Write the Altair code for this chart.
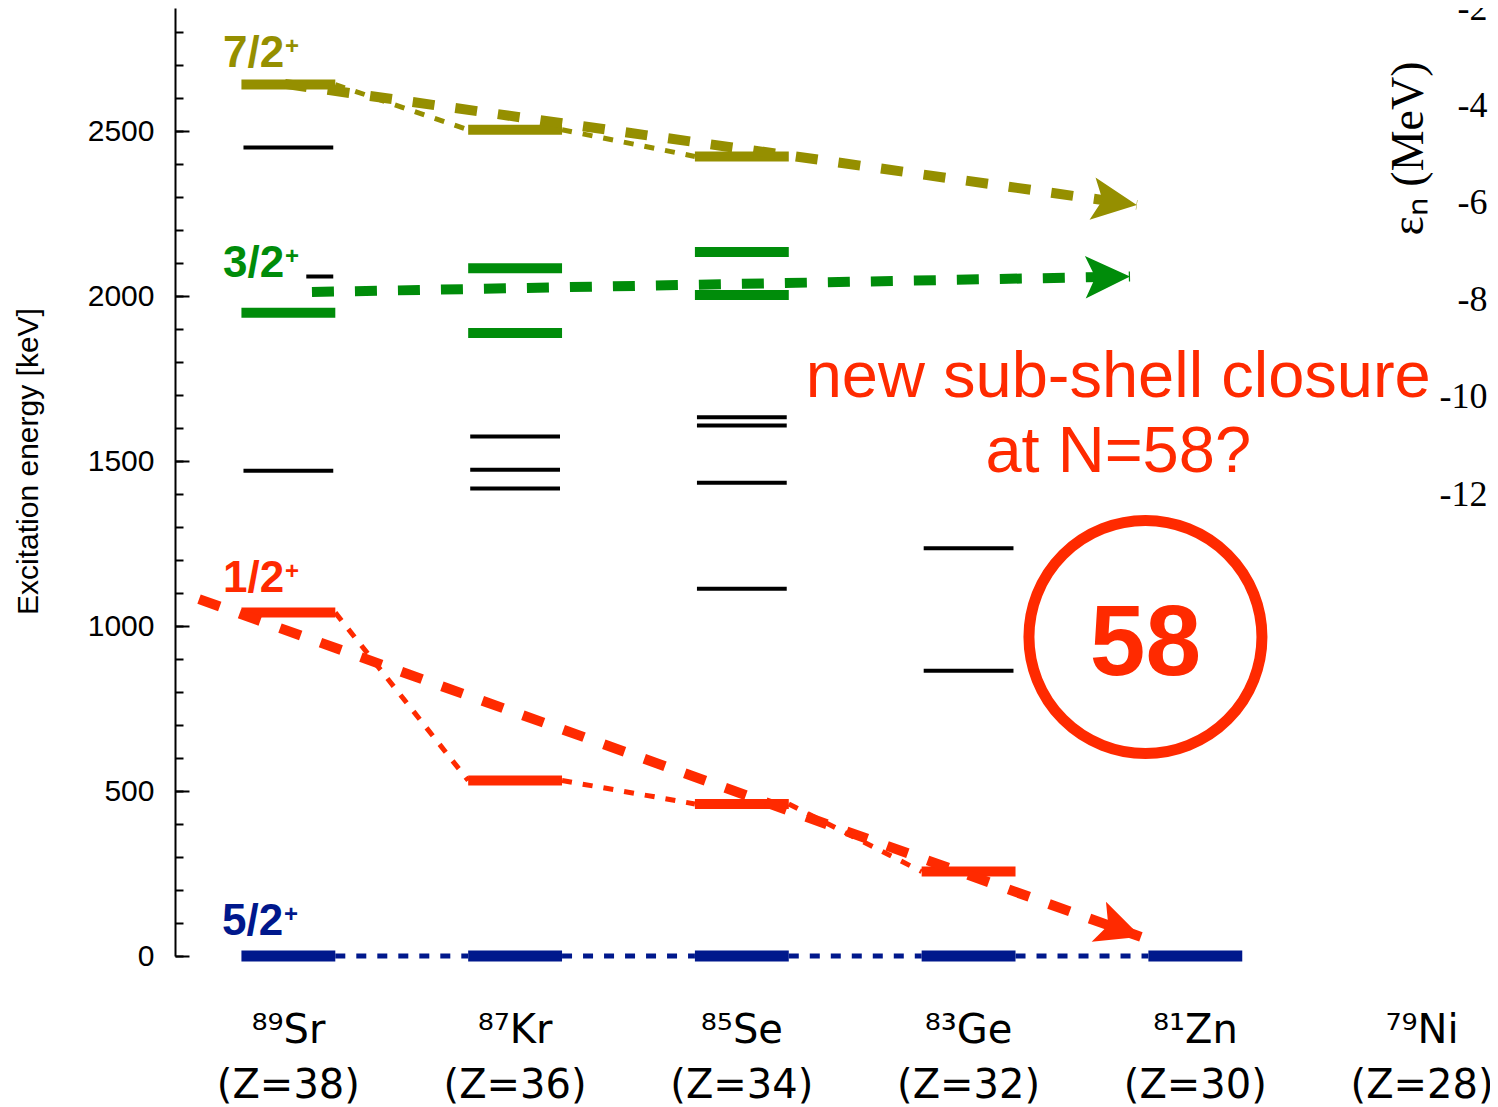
import math
import altair as alt
import pandas as pd

# ---------------- layout (plot area) ----------------
W, H = 1255, 948
X_DOMAIN = [-0.5, 5.035]          # nucleus slots
Y_DOMAIN = [0, 2874]              # keV
EPS_DOMAIN = [-21.5, -2]          # MeV (right axis)
PX_PER_SLOT = W / (X_DOMAIN[1] - X_DOMAIN[0])
PX_PER_KEV = H / (Y_DOMAIN[1] - Y_DOMAIN[0])

# ---------------- data ----------------
nuclei = ["⁸⁹Sr", "⁸⁷Kr", "⁸⁵Se", "⁸³Ge", "⁸¹Zn", "⁷⁹Ni"]
z_labels = ["(Z=38)", "(Z=36)", "(Z=34)", "(Z=32)", "(Z=30)", "(Z=28)"]
# label rows sit below the energy axis (keV positions of the text baselines)
name_row_y = -264
z_row_y = -431

OLIVE, GREEN, RED, BLUE, BLACK = "#958F00", "#008C0A", "#FF2A00", "#00188C", "#000000"

# 7/2+ levels (Sr, Kr, Se)
olive_levels = [2642, 2505, 2424]
# 3/2+ levels: (nucleus index, energy)
green_levels = [(0, 1950), (1, 2085), (1, 1889), (2, 2134), (2, 2004)]
# 1/2+ levels (Sr, Kr, Se, Ge)
red_levels = [1041, 532, 461, 256]
# 5/2+ ground states (Sr, Kr, Se, Ge, Zn)
blue_levels = [0, 0, 0, 0, 0]
# other levels: (nucleus index, energy)
black_levels = [(0, 2451), (0, 1471), (1, 1575), (1, 1474), (1, 1417),
                (2, 1633), (2, 1608), (2, 1435), (2, 1113), (3, 1236), (3, 865)]
short_black_levels = [(0, 2060)]

# thick trend arrows: start (slot, keV) -> tip (slot, keV)
trend_series = ["7/2", "3/2", "1/2"]
trend_colors = [OLIVE, GREEN, RED]
trend_start = [(-0.015, 2644), (0.104, 2013), (-0.394, 1082)]
trend_tip = [(3.742, 2277), (3.712, 2060), (3.760, 58)]

# spin labels
spin_text = ["7/2", "3/2", "1/2", "5/2"]
spin_colors = [OLIVE, GREEN, RED, BLUE]
spin_x = [-0.288, -0.288, -0.288, -0.293]
spin_y = [2696, 2059, 1104, 64]

# annotation
note_text = ["new sub-shell closure", "at N=58?"]
note_x = [3.660, 3.660]
note_y = [1695, 1468]
circle_x, circle_y = 3.780, 967
circle_label = "58"
circle_label_y = 852

eps_ticks = [-2, -4, -6, -8, -10, -12]

# ---------------- tables ----------------
HALF = 0.207      # colored bar half width (slots)
HALF_B = 0.198    # black bar half width

rows = []
for i, e in enumerate(olive_levels):
    rows.append(dict(x=i - HALF, x2=i + HALF, y=e, color=OLIVE, w=10))
for i, e in green_levels:
    rows.append(dict(x=i - HALF, x2=i + HALF, y=e, color=GREEN, w=10))
for i, e in enumerate(red_levels):
    rows.append(dict(x=i - HALF, x2=i + HALF, y=e, color=RED, w=10))
for i, e in enumerate(blue_levels):
    rows.append(dict(x=i - HALF, x2=i + HALF, y=e, color=BLUE, w=11))
for i, e in black_levels:
    rows.append(dict(x=i - HALF_B, x2=i + HALF_B, y=e, color=BLACK, w=4))
for i, e in short_black_levels:
    rows.append(dict(x=i + 0.079, x2=i + HALF_B, y=e, color=BLACK, w=4))
levels_df = pd.DataFrame(rows)

# thin dashed connectors between bar ends
seg_rows = []
seg_id = 0
for series, col in [(olive_levels, OLIVE), (red_levels, RED), (blue_levels, BLUE)]:
    for k in range(len(series) - 1):
        seg_rows.append(dict(seg=seg_id, o=0, x=k + HALF, y=series[k], color=col))
        seg_rows.append(dict(seg=seg_id, o=1, x=k + 1 - HALF, y=series[k + 1], color=col))
        seg_id += 1
seg_df = pd.DataFrame(seg_rows)

# thick dashed trend lines + arrowheads
trend_rows, head_rows = [], []
for s, c, (x0, y0), (x1, y1) in zip(trend_series, trend_colors, trend_start, trend_tip):
    trend_rows.append(dict(series=s, o=0, x=x0, y=y0, color=c))
    trend_rows.append(dict(series=s, o=1, x=x1, y=y1, color=c))
    dxp = (x1 - x0) * PX_PER_SLOT
    dyp = -(y1 - y0) * PX_PER_KEV
    ang = math.degrees(math.atan2(dyp, dxp)) % 360
    head_rows.append(dict(x=x1, y=y1, color=c, angle=ang))
trend_df = pd.DataFrame(trend_rows)
head_df = pd.DataFrame(head_rows)

spin_df = pd.DataFrame(dict(x=spin_x, y=spin_y, t=spin_text, color=spin_colors, p=["+"] * 4))
note_df = pd.DataFrame(dict(x=note_x, y=note_y, t=note_text))
circ_df = pd.DataFrame(dict(x=[circle_x], y=[circle_y], ly=[circle_label_y], t=[circle_label]))
eps_df = pd.DataFrame(dict(eps=eps_ticks))
nuc_df = pd.DataFrame(dict(
    x=list(range(len(nuclei))) * 2,
    y=[name_row_y] * len(nuclei) + [z_row_y] * len(z_labels),
    t=nuclei + z_labels,
))

# ---------------- encodings ----------------
xscale = alt.Scale(domain=X_DOMAIN, nice=False, zero=False)
yscale = alt.Scale(domain=Y_DOMAIN, nice=False, zero=False)


def X(f, axis=None):
    return alt.X(f, type="quantitative", scale=xscale, axis=axis)


def Y(f, axis=None):
    return alt.Y(f, type="quantitative", scale=yscale, axis=axis)


y_label_axis = alt.Axis(
    orient="left", values=[0, 500, 1000, 1500, 2000, 2500], format="d",
    ticks=False, tickSize=0, domain=True, domainColor="black", domainWidth=2, grid=False,
    labelFont="Liberation Sans", labelFontSize=30, labelPadding=21, labelColor="black",
    labelFlush=False, labelOverlap=False,
    title="Excitation energy [keV]", titleFont="Liberation Sans", titleFontSize=30,
    titleFontWeight="normal", titleColor="black", titleAngle=270, titleX=-138, titleY=453,
    titleAlign="center", titleBaseline="alphabetic",
)

minor_tick_axis = alt.Axis(
    orient="right", offset=-W, values=list(range(0, 2801, 100)), labels=False,
    domain=False, ticks=True, tickSize=8, tickWidth=2, tickColor="black", grid=False, title=None,
)
major_tick_axis = alt.Axis(
    orient="right", offset=-W, values=list(range(0, 2501, 500)), labels=False,
    domain=False, ticks=True, tickSize=14, tickWidth=2, tickColor="black", grid=False, title=None,
)

eps_axis = alt.Axis(
    orient="right", values=eps_ticks, labelExpr="'' + datum.value",
    domain=False, ticks=False, tickSize=0, grid=False,
    labelAlign="right", labelBaseline="middle", labelPadding=57,
    labelFont="Liberation Serif", labelFontSize=36, labelColor="black",
    labelFlush=False, labelOverlap=False,
    title="εₙ (MeV)", titleFont="Liberation Serif", titleFontSize=46, titleFontWeight="normal",
    titleColor="black", titleAngle=270, titleX=-22, titleY=140,
    titleAlign="center", titleBaseline="middle",
)

# ---------------- layers ----------------
levels = alt.Chart(levels_df).mark_rule(strokeCap="butt").encode(
    x=X("x"), x2="x2", y=Y("y", axis=y_label_axis),
    color=alt.Color("color:N", scale=None),
    strokeWidth=alt.StrokeWidth("w:Q", scale=None),
)

thin = alt.Chart(seg_df).mark_line(strokeWidth=5, strokeDash=[10, 11], strokeCap="butt").encode(
    x=X("x"), y=Y("y", axis=minor_tick_axis),
    color=alt.Color("color:N", scale=None), detail="seg:N", order="o:Q",
)

thick = alt.Chart(trend_df).mark_line(strokeWidth=10, strokeDash=[22, 21], strokeCap="butt").encode(
    x=X("x"), y=Y("y", axis=major_tick_axis),
    color=alt.Color("color:N", scale=None), detail="series:N", order="o:Q",
)

heads = alt.Chart(head_df).mark_point(
    shape="M0,0 L-2,-0.95 L-1.55,0 L-2,0.95 Z", size=2000, filled=True, opacity=1, strokeWidth=0,
).encode(
    x=X("x"), y=Y("y"), color=alt.Color("color:N", scale=None),
    angle=alt.Angle("angle:Q", scale=None),
)

spins = alt.Chart(spin_df).mark_text(
    align="left", baseline="alphabetic", font="Liberation Sans", fontSize=44, fontWeight="bold",
).encode(x=X("x"), y=Y("y"), text="t:N", color=alt.Color("color:N", scale=None))

pluses = alt.Chart(spin_df).mark_text(
    align="left", baseline="alphabetic", font="Liberation Sans", fontSize=24, fontWeight="bold",
    dx=62, dy=-13,
).encode(x=X("x"), y=Y("y"), text="p:N", color=alt.Color("color:N", scale=None))

notes = alt.Chart(note_df).mark_text(
    align="center", baseline="alphabetic", font="Liberation Sans", fontSize=65, color=RED,
).encode(x=X("x"), y=Y("y"), text="t:N")

circle = alt.Chart(circ_df).mark_point(
    shape="circle", size=233 * 233, filled=False, strokeWidth=11, color=RED, opacity=1,
).encode(x=X("x"), y=Y("y"))

circle_text = alt.Chart(circ_df).mark_text(
    align="center", baseline="alphabetic", font="Liberation Sans", fontSize=100,
    fontWeight="bold", color=RED,
).encode(x=X("x"), y=Y("ly"), text="t:N")

nuc_text = alt.Chart(nuc_df).mark_text(
    align="center", baseline="alphabetic", font="DejaVu Sans", fontSize=40, color="black",
).encode(x=X("x"), y=Y("y"), text="t:N")

eps_layer = alt.Chart(eps_df).mark_point(opacity=0).encode(
    x=alt.value(0),
    y=alt.Y("eps", type="quantitative",
            scale=alt.Scale(domain=EPS_DOMAIN, nice=False, zero=False), axis=eps_axis),
)

chart = alt.layer(
    levels, thin, thick, heads, spins, pluses, notes, circle, circle_text, nuc_text, eps_layer
).resolve_scale(y="independent").properties(
    width=W, height=H,
    padding={"left": 167, "top": 0, "right": 60, "bottom": 165},
    autosize=alt.AutoSizeParams(type="none"),
    background="white",
).configure_view(stroke=None)

chart.save("out.html", embed_options={"renderer": "svg", "actions": False})
